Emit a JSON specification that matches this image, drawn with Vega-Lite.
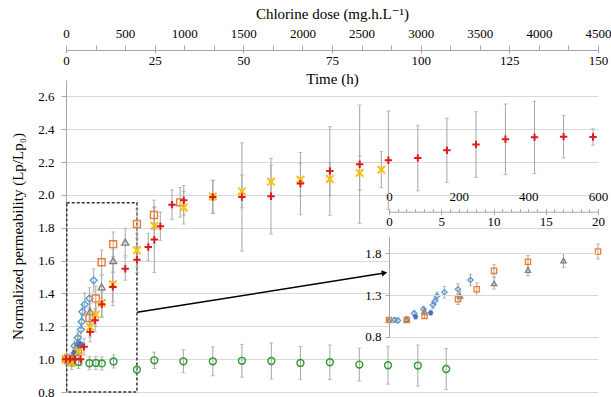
{
  "$schema": "https://vega.github.io/schema/vega-lite/v6.json",
  "width": 532,
  "height": 312,
  "autosize": {"type": "none"},
  "padding": {"left": 66, "top": 80, "right": 13, "bottom": 5},
  "background": "white",
  "config": {
    "font": "Times New Roman, Liberation Serif, DejaVu Serif, serif",
    "view": {"stroke": null},
    "axis": {
      "labelFont": "Times New Roman, Liberation Serif, DejaVu Serif, serif", "titleFont": "Times New Roman, Liberation Serif, DejaVu Serif, serif",
      "labelColor": "#000", "titleColor": "#000", "titleFontWeight": "normal",
      "labelFontSize": 13, "titleFontSize": 15,
      "domainColor": "#A6A6A6", "tickColor": "#A6A6A6", "gridColor": "#D9D9D9",
      "labelFlush": false, "labelOverlap": false
    }
  },
  "datasets": {
    "pts": [
      {"s":"G","t":0,"y":1.0,"e":0.02},{"s":"G","t":1.7,"y":0.985,"e":0.03},{"s":"G","t":3.5,"y":0.983,"e":0.04},{"s":"G","t":6.6,"y":0.975,"e":0.04},{"s":"G","t":8.4,"y":0.977,"e":0.04},{"s":"G","t":10.1,"y":0.974,"e":0.04},{"s":"G","t":13.4,"y":0.986,"e":0.04},{"s":"G","t":20,"y":0.936,"e":0.02},{"s":"G","t":24.9,"y":0.993,"e":0.05},{"s":"G","t":33.1,"y":0.987,"e":0.07},{"s":"G","t":41.4,"y":0.987,"e":0.088},{"s":"G","t":49.6,"y":0.99,"e":0.1},{"s":"G","t":57.9,"y":0.989,"e":0.11},{"s":"G","t":66.1,"y":0.977,"e":0.1},{"s":"G","t":74.4,"y":0.981,"e":0.105},{"s":"G","t":82.7,"y":0.967,"e":0.1},{"s":"G","t":90.8,"y":0.963,"e":0.115},{"s":"G","t":99.2,"y":0.961,"e":0.125},{"s":"G","t":107.2,"y":0.94,"e":0.125},
      {"s":"E","t":0.54,"y":1.0,"e":0.03},{"s":"E","t":0.86,"y":0.995,"e":0.03},{"s":"E","t":2.4,"y":1.08,"e":0.03},{"s":"E","t":3.3,"y":1.13,"e":0.035},{"s":"E","t":4.2,"y":1.18,"e":0.04},{"s":"E","t":4.4,"y":1.228,"e":0.04},{"s":"E","t":4.6,"y":1.289,"e":0.045},{"s":"E","t":5.3,"y":1.333,"e":0.07},{"s":"E","t":6.6,"y":1.369,"e":0.066},{"s":"E","t":7.8,"y":1.48,"e":0.07},
      {"s":"F","t":2.55,"y":1.04,"e":0.03},{"s":"F","t":3.99,"y":1.088,"e":0.03},
      {"s":"D","t":0,"y":1.0,"e":0.03},{"s":"D","t":1.7,"y":1.01,"e":0.03},{"s":"D","t":3.4,"y":1.1,"e":0.04},{"s":"D","t":6.8,"y":1.29,"e":0.05},{"s":"D","t":10.05,"y":1.44,"e":0.068},{"s":"D","t":13.3,"y":1.6,"e":0.07},{"s":"D","t":16.7,"y":1.713,"e":0.084},
      {"s":"C","t":0,"y":1.0,"e":0.02},{"s":"C","t":1.7,"y":1.0,"e":0.03},{"s":"C","t":3.4,"y":1.05,"e":0.03},{"s":"C","t":6.6,"y":1.25,"e":0.064},{"s":"C","t":8.4,"y":1.37,"e":0.076},{"s":"C","t":10.05,"y":1.59,"e":0.074},{"s":"C","t":13.3,"y":1.7,"e":0.075},{"s":"C","t":20,"y":1.823,"e":0.09},{"s":"C","t":24.8,"y":1.878,"e":0.09},{"s":"C","t":32.2,"y":1.955,"e":0.09},
      {"s":"B","t":0,"y":1.0,"e":0.02},{"s":"B","t":1.6,"y":0.977,"e":0.04},{"s":"B","t":3.5,"y":1.044,"e":0.05},{"s":"B","t":6.8,"y":1.196,"e":0.06},{"s":"B","t":8.4,"y":1.271,"e":0.07},{"s":"B","t":10.1,"y":1.342,"e":0.08},{"s":"B","t":13.2,"y":1.456,"e":0.13},{"s":"B","t":20,"y":1.663,"e":0.1},{"s":"B","t":24.9,"y":1.813,"e":0.11},{"s":"B","t":33.2,"y":1.923,"e":0.1},{"s":"B","t":41.4,"y":1.99,"e":0.1},{"s":"B","t":49.6,"y":2.022,"e":0.1},{"s":"B","t":57.8,"y":2.081,"e":0.1},{"s":"B","t":66.1,"y":2.093,"e":0.1},{"s":"B","t":74.4,"y":2.097,"e":0.1},{"s":"B","t":82.8,"y":2.134,"e":0.105},{"s":"B","t":88.9,"y":2.154,"e":0.11},
      {"s":"A","t":0,"y":1.0,"e":0.03},{"s":"A","t":1.1,"y":1.0,"e":0.03},{"s":"A","t":2.5,"y":1.0,"e":0.03},{"s":"A","t":4.1,"y":1.0,"e":0.04},{"s":"A","t":5.1,"y":1.075,"e":0.05},{"s":"A","t":6.8,"y":1.165,"e":0.06},{"s":"A","t":8.2,"y":1.237,"e":0.07},{"s":"A","t":10.1,"y":1.334,"e":0.08},{"s":"A","t":13.2,"y":1.44,"e":0.09},{"s":"A","t":16.7,"y":1.551,"e":0.07},{"s":"A","t":20,"y":1.606,"e":0.08},{"s":"A","t":23.2,"y":1.683,"e":0.083},{"s":"A","t":24.9,"y":1.728,"e":0.2},{"s":"A","t":26.6,"y":1.81,"e":0.086},{"s":"A","t":29.9,"y":1.941,"e":0.09},{"s":"A","t":33.2,"y":1.967,"e":0.09},{"s":"A","t":41.4,"y":1.988,"e":0.1},{"s":"A","t":49.6,"y":1.988,"e":0.33},{"s":"A","t":57.8,"y":1.992,"e":0.23},{"s":"A","t":66.1,"y":2.069,"e":0.19},{"s":"A","t":74.4,"y":2.146,"e":0.27},{"s":"A","t":82.8,"y":2.187,"e":0.36},{"s":"A","t":90.9,"y":2.211,"e":0.3},{"s":"A","t":99.2,"y":2.225,"e":0.2},{"s":"A","t":107.4,"y":2.272,"e":0.196},{"s":"A","t":115.6,"y":2.307,"e":0.2},{"s":"A","t":123.9,"y":2.339,"e":0.215},{"s":"A","t":132.1,"y":2.351,"e":0.22},{"s":"A","t":140.3,"y":2.355,"e":0.13},{"s":"A","t":148.6,"y":2.353,"e":0.05}
    ],
    "box": [{"t":0.2,"t2":20,"y":0.8,"y2":1.952}],
    "arrow": [{"t":20.05,"y":1.285,"t2":89.8,"y2":1.525}],
    "head": [{"t":89.8,"y":1.525}],
    "bg": [{"t":0,"t2":20,"y":0.8,"y2":2.0}]
  },
  "resolve": {"scale": {"x": "independent", "y": "independent"}},
  "layer": [
    {
      "resolve": {"axis": {"x": "independent"}},
      "encoding": {
        "y": {"field": "y", "type": "quantitative",
          "scale": {"domain": [0.8, 2.7], "nice": false, "zero": false},
          "axis": {"values": [0.8, 1, 1.2, 1.4, 1.6, 1.8, 2, 2.2, 2.4, 2.6], "format": ".1f",
            "labelFont": "Times New Roman, Liberation Serif, DejaVu Serif, serif", "titleFont": "Times New Roman, Liberation Serif, DejaVu Serif, serif", "labelFontSize": 13, "titleFontSize": 15, "titleFontWeight": "normal",
            "labelColor": "#000", "titleColor": "#000", "domainColor": "#A6A6A6", "tickColor": "#A6A6A6", "gridColor": "#D9D9D9",
            "title": "Normalized permeability (Lp/Lp₀)", "grid": true, "tickSize": 5, "labelPadding": 7, "titlePadding": 12, "labelOverlap": false}}
      },
      "layer": [
        {
          "data": {"name": "box"},
          "mark": {"type": "rect", "filled": false, "color": "#333333", "strokeDash": [3, 2], "strokeWidth": 1.5},
          "encoding": {
            "x": {"field": "t", "type": "quantitative",
              "scale": {"domain": [0, 150], "nice": false, "zero": false},
              "axis": {"orient": "top", "offset": 30, "title": "Chlorine dose (mg.h.L⁻¹)", "grid": false,
                "labelFont": "Times New Roman, Liberation Serif, DejaVu Serif, serif", "titleFont": "Times New Roman, Liberation Serif, DejaVu Serif, serif", "labelFontSize": 13, "titleFontSize": 15, "titleFontWeight": "normal",
                "labelColor": "#000", "titleColor": "#000", "domainColor": "#A6A6A6", "tickColor": "#A6A6A6",
                "values": [0, 8.333333, 16.666667, 25, 33.333333, 41.666667, 50, 58.333333, 66.666667, 75, 83.333333, 91.666667, 100, 108.333333, 116.666667, 125, 133.333333, 141.666667, 150],
                "labelExpr": "round(datum.value*30) % 500 == 0 ? '' + round(datum.value*30) : ''",
                "tickSize": 5, "labelPadding": 5, "titlePadding": 6, "labelFlush": false, "labelOverlap": false}},
            "x2": {"field": "t2"},
            "y2": {"field": "y2"}
          }
        },
        {
          "data": {"name": "pts"},
          "mark": {"type": "errorbar", "rule": {"color": "#A6A6A6"}, "ticks": {"color": "#A6A6A6", "size": 4}},
          "encoding": {
            "x": {"field": "t", "type": "quantitative",
              "axis": {"orient": "bottom", "offset": -342, "title": "Time (h)", "grid": false, "domain": false,
                "labelFont": "Times New Roman, Liberation Serif, DejaVu Serif, serif", "titleFont": "Times New Roman, Liberation Serif, DejaVu Serif, serif", "labelFontSize": 13, "titleFontSize": 15, "titleFontWeight": "normal",
                "labelColor": "#000", "titleColor": "#000", "tickColor": "#A6A6A6",
                "values": [0, 25, 50, 75, 100, 125, 150], "tickSize": 3, "labelPadding": 1, "titlePadding": 4, "labelFlush": false, "labelOverlap": false}},
            "yError": {"field": "e"}
          }
        },
        {
          "data": {"name": "pts"},
          "transform": [{"filter": "datum.s == 'C' || datum.s == 'D' || datum.s == 'E' || datum.s == 'G'"}],
          "mark": {"type": "point", "filled": false, "opacity": 1, "strokeWidth": 1.4, "size": 48},
          "encoding": {
            "x": {"field": "t", "type": "quantitative", "axis": null},
            "shape": {"field": "s", "type": "nominal", "legend": null,
              "scale": {"domain": ["A", "B", "C", "D", "E", "F", "G"],
                "range": ["M-1,0H1M0,-1V1", "M-1,-1L1,1M-1,1L1,-1", "square", "triangle-up", "diamond", "M-1,0H1M0,-1V1M-0.7,-0.7L0.7,0.7M-0.7,0.7L0.7,-0.7", "circle"]}},
            "color": {"field": "s", "type": "nominal", "legend": null,
              "scale": {"domain": ["A", "B", "C", "D", "E", "F", "G"],
                "range": ["#DD1C1C", "#FFC000", "#ED7D31", "#7F7F7F", "#5B9BD5", "#4472C4", "#2F9A2F"]}}
          }
        },
        {
          "data": {"name": "pts"},
          "transform": [{"filter": "datum.s == 'A' || datum.s == 'B' || datum.s == 'F'"}],
          "mark": {"type": "point", "filled": false, "opacity": 1, "strokeWidth": 2, "size": 55},
          "encoding": {
            "x": {"field": "t", "type": "quantitative", "axis": null},
            "shape": {"field": "s", "type": "nominal", "legend": null},
            "color": {"field": "s", "type": "nominal", "legend": null}
          }
        },
        {
          "data": {"name": "arrow"},
          "mark": {"type": "rule", "color": "#000000", "strokeWidth": 1.5},
          "encoding": {
            "x": {"field": "t", "type": "quantitative", "axis": null},
            "x2": {"field": "t2"},
            "y2": {"field": "y2"}
          }
        },
        {
          "data": {"name": "head"},
          "mark": {"type": "point", "shape": "triangle-right", "filled": true, "color": "#000000", "size": 40, "angle": 351, "opacity": 1},
          "encoding": {
            "x": {"field": "t", "type": "quantitative", "axis": null}
          }
        }
      ]
    },
    {
      "resolve": {"axis": {"x": "independent"}},
      "encoding": {
        "y": {"field": "y", "type": "quantitative",
          "scale": {"domain": [0.8, 2.0], "range": [256.7, 156.7], "nice": false, "zero": false},
          "axis": {"orient": "left", "offset": -323, "title": null, "values": [0.8, 1.3, 1.8], "format": ".1f",
            "labelFont": "Times New Roman, Liberation Serif, DejaVu Serif, serif", "labelFontSize": 13, "labelColor": "#000", "domainColor": "#A6A6A6", "tickColor": "#A6A6A6", "gridColor": "#D9D9D9",
            "grid": true, "zindex": 1, "tickSize": 4, "labelPadding": 4, "labelOverlap": false}}
      },
      "layer": [
        {
          "data": {"name": "bg"},
          "mark": {"type": "rect", "color": "#FFFFFF", "opacity": 1},
          "encoding": {
            "x": {"field": "t", "type": "quantitative",
              "scale": {"domain": [0, 20], "range": [323, 532], "nice": false, "zero": false},
              "axis": {"orient": "top", "offset": -131.7, "title": null, "grid": false,
                "labelFont": "Times New Roman, Liberation Serif, DejaVu Serif, serif", "labelFontSize": 13, "labelColor": "#000", "domainColor": "#A6A6A6", "tickColor": "#A6A6A6",
                "values": [0, 0.833333, 1.666667, 2.5, 3.333333, 4.166667, 5, 5.833333, 6.666667, 7.5, 8.333333, 9.166667, 10, 10.833333, 11.666667, 12.5, 13.333333, 14.166667, 15, 15.833333, 16.666667, 17.5, 18.333333, 19.166667, 20],
                "labelExpr": "round(datum.value*30) % 200 == 0 ? '' + round(datum.value*30) : ''",
                "tickSize": 3, "labelPadding": 5, "labelFlush": false, "labelOverlap": false}},
            "x2": {"field": "t2"},
            "y2": {"field": "y2"}
          }
        },
        {
          "data": {"name": "pts"},
          "transform": [{"filter": "datum.t <= 20 && (datum.s == 'C' || datum.s == 'D' || datum.s == 'E' || datum.s == 'F')"}],
          "mark": {"type": "errorbar", "rule": {"color": "#A6A6A6"}, "ticks": {"color": "#A6A6A6", "size": 4}},
          "encoding": {
            "x": {"field": "t", "type": "quantitative",
              "axis": {"orient": "bottom", "offset": -180.3, "title": null, "grid": false, "domain": false,
                "labelFont": "Times New Roman, Liberation Serif, DejaVu Serif, serif", "labelFontSize": 13, "labelColor": "#000", "tickColor": "#A6A6A6",
                "values": [0, 5, 10, 15, 20], "tickSize": 3, "labelPadding": 1, "labelFlush": false, "labelOverlap": false}},
            "yError": {"field": "e"}
          }
        },
        {
          "data": {"name": "pts"},
          "transform": [{"filter": "datum.t <= 20 && (datum.s == 'C' || datum.s == 'D' || datum.s == 'E' || datum.s == 'F')"}],
          "mark": {"type": "point", "filled": false, "opacity": 1, "strokeWidth": 1.3, "size": 28},
          "encoding": {
            "x": {"field": "t", "type": "quantitative", "axis": null},
            "shape": {"field": "s", "type": "nominal", "legend": null},
            "color": {"field": "s", "type": "nominal", "legend": null}
          }
        }
      ]
    }
  ]
}
